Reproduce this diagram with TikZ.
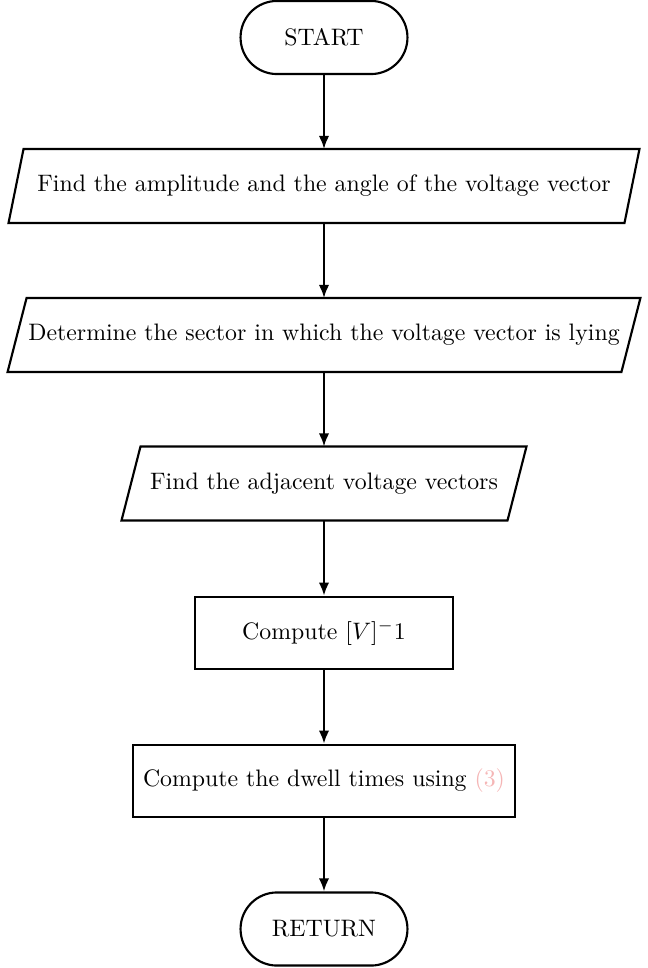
\documentclass[tikz,border=0pt]{standalone}
\usetikzlibrary{arrows.meta,calc}
\definecolor{reflink}{RGB}{245,182,182}
\begin{document}
\begin{tikzpicture}[x=0.42pt,y=-0.42pt,
  every node/.style={inner sep=0pt, font=\normalsize},
  term/.style={draw, line width=0.9pt, rounded corners=15.3pt, minimum width=70.1pt, minimum height=30.7pt},
  iobox/.style={minimum height=30.7pt},
  procbox/.style={draw, line width=0.9pt, minimum height=30.5pt},
  arr/.style={line width=0.9pt, -{Latex[length=5.5pt,width=4.4pt]}},
  paraline/.style={line width=0.9pt}]
\useasboundingbox (0,0) rectangle (648,968);

\node[term] (start) at (324,37.5) {START};
\node[iobox, minimum width=264.6pt] (p1) at (324,186) {Find the amplitude and the angle of the voltage vector};
\node[iobox, minimum width=265.4pt] (p2) at (324,335) {Determine the sector in which the voltage vector is lying};
\node[iobox, minimum width=169.7pt] (p3) at (324,483.5) {Find the adjacent voltage vectors};
\node[procbox, minimum width=108.4pt] (b4) at (324,633) {Compute $[V]^-1$};
\node[procbox, minimum width=160.4pt] (b5) at (324,781) {Compute the dwell times using \textcolor{reflink}{(3)}};
\node[term] (ret) at (324,929) {RETURN};

\foreach \p/\s in {p1/15, p2/19, p3/19}{
  \draw[paraline] ($(\p.north west)+(\s,0)$) -- (\p.north east) -- ($(\p.south east)-(\s,0)$) -- (\p.south west) -- cycle;
}

\draw[arr] (start) -- (p1);
\draw[arr] (p1) -- (p2);
\draw[arr] (p2) -- (p3);
\draw[arr] (p3) -- (b4);
\draw[arr] (b4) -- (b5);
\draw[arr] (b5) -- (ret);
\end{tikzpicture}
\end{document}
